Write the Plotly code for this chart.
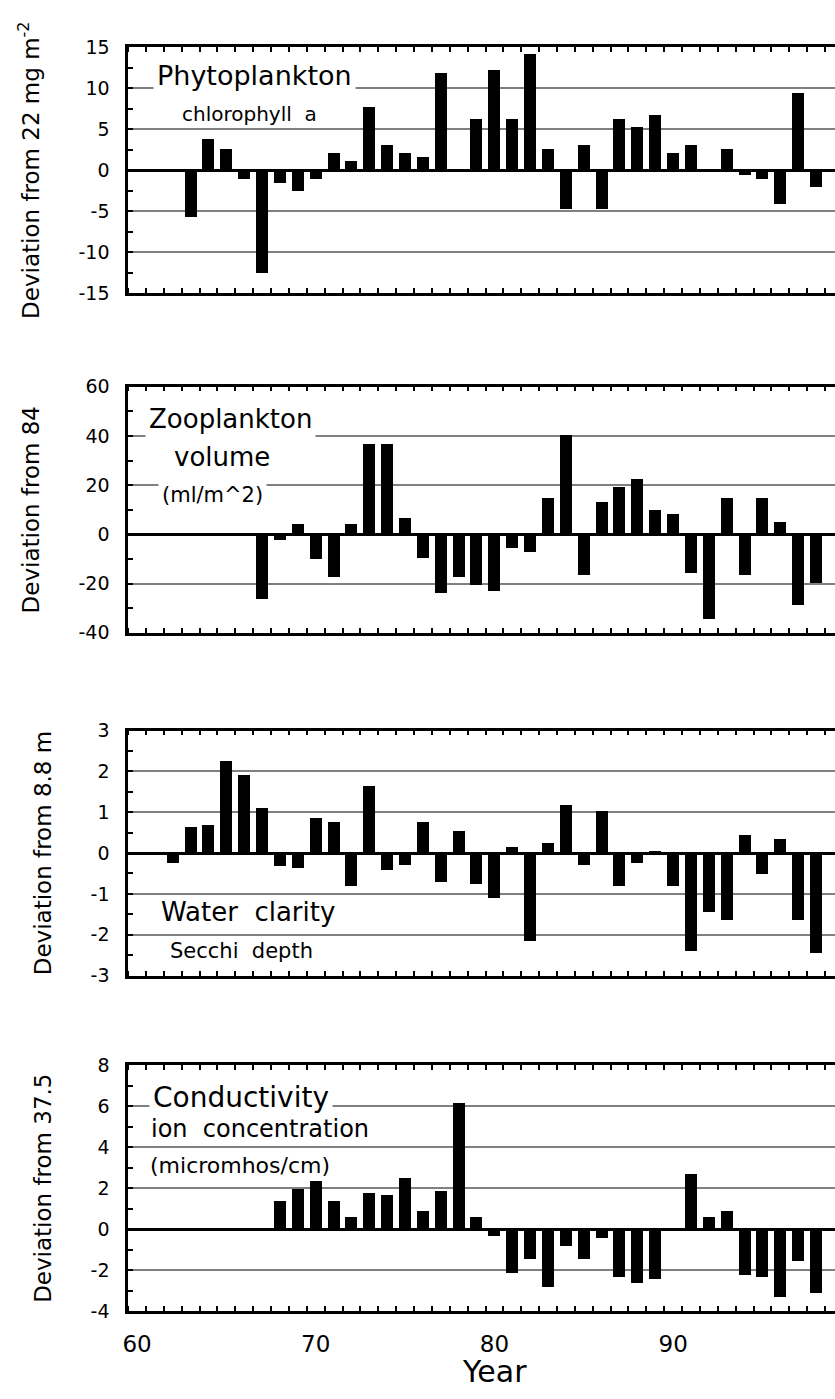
import plotly.graph_objects as go

# ---------------- data ----------------
years = list(range(60, 99))  # 1960 .. 1998

phyto = {63: -5.7, 64: 3.8, 65: 2.6, 66: -1.1, 67: -12.6, 68: -1.6, 69: -2.5, 70: -1.1,
         71: 2.1, 72: 1.15, 73: 7.7, 74: 3.1, 75: 2.1, 76: 1.6, 77: 11.8, 79: 6.2,
         80: 12.2, 81: 6.2, 82: 14.2, 83: 2.6, 84: -4.8, 85: 3.1, 86: -4.8, 87: 6.2,
         88: 5.25, 89: 6.7, 90: 2.1, 91: 3.1, 93: 2.6, 94: -0.6, 95: -1.1, 96: -4.2,
         97: 9.35, 98: -2.05}
zoo = {67: -26.0, 68: -2.0, 69: 4.3, 70: -10.0, 71: -17.3, 72: 4.3, 73: 37.0, 74: 37.0,
       75: 6.7, 76: -9.3, 77: -23.7, 78: -17.3, 79: -20.5, 80: -22.9, 81: -5.3, 82: -6.9,
       83: 14.7, 84: 40.3, 85: -16.5, 86: 13.1, 87: 19.5, 88: 22.7, 89: 9.9, 90: 8.3,
       91: -15.7, 92: -34.1, 93: 14.7, 94: -16.5, 95: 14.7, 96: 5.1, 97: -28.5, 98: -19.7}
secchi = {62: -0.22, 63: 0.64, 64: 0.69, 65: 2.27, 66: 1.93, 67: 1.12, 68: -0.31, 69: -0.36,
          70: 0.88, 71: 0.78, 72: -0.8, 73: 1.65, 74: -0.41, 75: -0.27, 76: 0.78, 77: -0.7,
          78: 0.55, 79: -0.75, 80: -1.09, 81: 0.16, 82: -2.15, 83: 0.26, 84: 1.18, 85: -0.27,
          86: 1.03, 87: -0.8, 88: -0.22, 89: 0.06, 90: -0.8, 91: -2.38, 92: -1.43, 93: -1.62,
          94: 0.45, 95: -0.51, 96: 0.35, 97: -1.62, 98: -2.44}
cond = {68: 1.37, 69: 1.94, 70: 2.32, 71: 1.37, 72: 0.6, 73: 1.75, 74: 1.65, 75: 2.5,
        76: 0.89, 77: 1.84, 78: 6.13, 79: 0.6, 80: -0.33, 81: -2.14, 82: -1.48, 83: -2.81,
        84: -0.81, 85: -1.48, 86: -0.43, 87: -2.33, 88: -2.62, 89: -2.43, 91: 2.7, 92: 0.6,
        93: 0.89, 94: -2.24, 95: -2.33, 96: -3.29, 97: -1.57, 98: -3.1}

phyto_vals = [phyto.get(y) for y in years]
zoo_vals = [zoo.get(y) for y in years]
secchi_vals = [secchi.get(y) for y in years]
cond_vals = [cond.get(y) for y in years]

x_tick_vals = [60, 70, 80, 90]
x_tick_text = ["60", "70", "80", "90"]

phyto_ticks = [15, 10, 5, 0, -5, -10, -15]
zoo_ticks = [60, 40, 20, 0, -20, -40]
secchi_ticks = [3, 2, 1, 0, -1, -2, -3]
cond_ticks = [8, 6, 4, 2, 0, -2, -4]

y_titles = ["Deviation from 22 mg m<sup>-2</sup>", "Deviation from 84",
            "Deviation from 8.8 m", "Deviation from 37.5"]

# ---------------- layout geometry ----------------
W, H = 835, 1399
FONT = "DejaVu Sans"
panels_px = [(36.7, 286.7), (381.7, 631.7), (731, 980), (1071, 1321)]
x_left_px = 123
x_range = [59.5, 59.5 + (W - x_left_px) / 18.0]

series = [phyto_vals, zoo_vals, secchi_vals, cond_vals]
yticks = [phyto_ticks, zoo_ticks, secchi_ticks, cond_ticks]
minor_dt = [2.5, 10, 0.5, 1]

fig = go.Figure()
layout = dict(
    width=W, height=H, margin=dict(l=0, r=0, t=0, b=0),
    paper_bgcolor="white", plot_bgcolor="white",
    showlegend=False, font=dict(family=FONT, color="black", size=19),
    bargap=0,
)

for i in range(4):
    k = "" if i == 0 else str(i + 1)
    top, bot = panels_px[i]
    fig.add_trace(go.Bar(x=years, y=series[i], width=0.67,
                         marker=dict(color="black", line=dict(width=0)),
                         xaxis="x" + k, yaxis="y" + k))
    tv = yticks[i]
    layout["xaxis" + k] = dict(
        domain=[x_left_px / W, 1], range=x_range, anchor="y" + k,
        showgrid=False, zeroline=False, showline=True, linecolor="black",
        linewidth=2.5, mirror="ticks", ticks="", tickvals=x_tick_vals,
        ticktext=x_tick_text, showticklabels=(i == 3),
        tickfont=dict(family=FONT, size=23, color="black"),
        ticklabelstandoff=10,
        minor=dict(ticks="inside", tick0=0.5, dtick=1, ticklen=5, tickwidth=2,
                   tickcolor="black", showgrid=False),
    )
    layout["yaxis" + k] = dict(
        domain=[1 - bot / H, 1 - top / H], range=[tv[-1], tv[0]], anchor="x" + k,
        tickvals=tv, ticktext=[str(v) for v in tv],
        tickfont=dict(family=FONT, size=19, color="black"),
        ticks="inside", ticklen=5, tickwidth=2, tickcolor="black",
        showline=True, linecolor="black", linewidth=2.5, mirror=False,
        showgrid=True, gridcolor="#808080", gridwidth=1.6,
        zeroline=True, zerolinecolor="black", zerolinewidth=2.5,
        ticklabelstandoff=12,
        minor=dict(ticks="inside", dtick=minor_dt[i], ticklen=5, tickwidth=2,
                   tickcolor="black", showgrid=False),
        title=dict(text=y_titles[i], font=dict(family=FONT, size=23, color="black"),
                   standoff=33),
    )

fig.update_layout(**layout)

def xd(px):
    return 59.5 + (px - x_left_px) / 18.0

labels = [
    # (text, x, y, axis index, size, bg, anchor)
    ("Phytoplankton", xd(250.8), 11.6, 0, 27, True, "center"),
    ("chlorophyll  a", xd(245), 6.8, 0, 20, False, "center"),
    ("Zooplankton", xd(226), 46.7, 1, 26, True, "center"),
    ("volume", xd(217.5), 31.5, 1, 26, False, "center"),
    ("(ml/m^2)", xd(208), 16.0, 1, 21, True, "center"),
    ("Water  clarity", xd(243.5), -1.44, 2, 26, False, "center"),
    ("Secchi  depth", xd(237), -2.4, 2, 21, False, "center"),
    ("Conductivity", xd(144), 6.43, 3, 28, True, "left"),
    ("ion  concentration", xd(142), 4.89, 3, 24, False, "left"),
    ("(micromhos/cm)", xd(141), 3.1, 3, 22, False, "left"),
]
for text, x, y, ai, size, bg, anc in labels:
    k = "" if ai == 0 else str(ai + 1)
    fig.add_annotation(text=text.replace("  ", "&nbsp; "), x=x, y=y, xref="x" + k, yref="y" + k,
                       showarrow=False, xanchor=anc, yanchor="middle",
                       font=dict(family=FONT, size=size, color="black"),
                       bgcolor="white" if bg else "rgba(0,0,0,0)", borderpad=3)

fig.add_annotation(text="Year", x=80, y=1 - 1382 / H, xref="x4", yref="paper",
                   showarrow=False, xanchor="center", yanchor="middle",
                   font=dict(family=FONT, size=30, color="black"))

fig.write_html("out.html")
